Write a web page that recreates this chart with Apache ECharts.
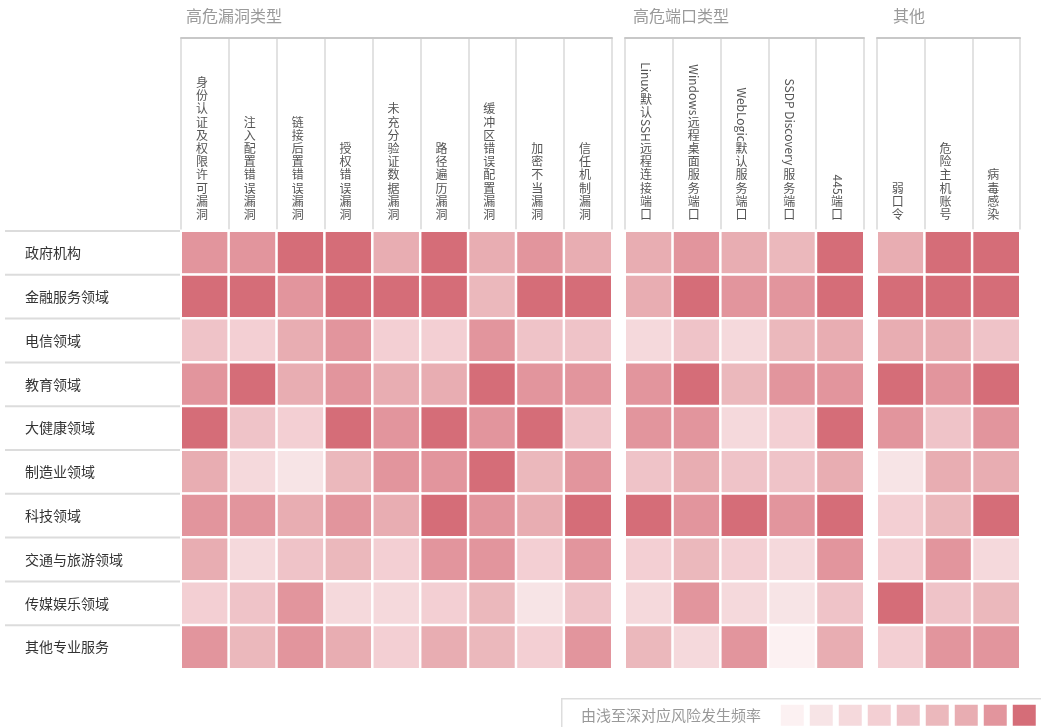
<!DOCTYPE html>
<html><head><meta charset="utf-8">
<script src="https://cdn.jsdelivr.net/npm/echarts@6/dist/echarts.min.js"></script>
<style>html,body{margin:0;padding:0;background:#fff}#c{width:1041px;height:727px}</style>
</head><body><div id="c"></div>
<script>
const rows = ['政府机构','金融服务领域','电信领域','教育领域','大健康领域','制造业领域','科技领域','交通与旅游领域','传媒娱乐领域','其他专业服务'];
const vulnCols = ['身份认证及权限许可漏洞','注入配置错误漏洞','链接后置错误漏洞','授权错误漏洞','未充分验证数据漏洞','路径遍历漏洞','缓冲区错误配置漏洞','加密不当漏洞','信任机制漏洞'];
const portCols = ['Linux默认SSH远程连接端口','Windows远程桌面服务端口','WebLogic默认服务端口','SSDP Discovery 服务端口','445端口'];
const otherCols = ['弱口令','危险主机账号','病毒感染'];
const groupTitles = ['高危漏洞类型','高危端口类型','其他'];
const legendText = '由浅至深对应风险发生频率';
const levelColors = ['#fcf1f2','#f7e4e6','#f5d9dc','#f3cfd3','#efc3c8','#ebb8bc','#e8adb2','#e2959d','#d56d78'];
// risk level 1..9 per row (rows order)
const vulnValues = [
 [8,8,9,9,7,9,7,8,7],
 [9,9,8,9,9,9,6,9,9],
 [5,4,7,8,4,4,8,5,5],
 [8,9,7,8,7,7,9,8,8],
 [9,5,4,9,8,9,8,9,5],
 [7,3,2,6,8,8,9,6,8],
 [8,8,7,8,7,9,8,7,9],
 [7,3,5,6,4,8,8,4,8],
 [4,5,8,3,3,4,6,2,5],
 [8,6,8,7,4,7,6,4,8]
];
const portValues = [
 [7,8,7,6,9],
 [7,9,8,8,9],
 [3,5,3,6,7],
 [8,9,6,8,8],
 [8,8,3,4,9],
 [5,7,5,5,7],
 [9,8,9,8,9],
 [4,6,4,3,8],
 [3,8,3,2,5],
 [6,3,8,1,7]
];
const otherValues = [
 [7,9,9],
 [9,9,9],
 [7,7,5],
 [9,8,9],
 [8,5,8],
 [2,7,7],
 [4,6,9],
 [4,8,3],
 [9,5,6],
 [4,8,8]
];

const FONT = '"Noto Sans CJK SC","Noto Sans",sans-serif';
const chart = echarts.init(document.getElementById('c'));
const groups = [
  {cols: vulnCols, vals: vulnValues, left: 181, width: 431, titleLeft: 186},
  {cols: portCols, vals: portValues, left: 625, width: 239, titleLeft: 633},
  {cols: otherCols, vals: otherValues, left: 877, width: 143, titleLeft: 893}
];
const grids = [], xAxes = [], yAxes = [], series = [];
groups.forEach((g, i) => {
  grids.push({left: g.left, width: g.width, top: 231, height: 438});
  xAxes.push({type: 'category', gridIndex: i, data: g.cols, show: false});
  yAxes.push({type: 'category', gridIndex: i, data: rows, inverse: true, show: false});
  const data = [];
  g.vals.forEach((r, ri) => r.forEach((v, ci) => data.push([ci, ri, v])));
  series.push({type: 'heatmap', xAxisIndex: i, yAxisIndex: i, data: data,
    itemStyle: {borderColor: '#fff', borderWidth: 2.5}, emphasis: {disabled: true}});
});
groups.forEach((g, i) => {
  grids.push({left: g.left, width: g.width, top: 38, height: 193});
  xAxes.push({type: 'category', gridIndex: 3 + i, data: g.cols, position: 'top',
    axisLine: {show: true, onZero: false, lineStyle: {color: '#c8c8c8', width: 2}},
    axisTick: {show: false}, axisLabel: {show: false},
    splitLine: {show: true, interval: 0, lineStyle: {color: '#e2e2e2', width: 2}}});
  yAxes.push({type: 'value', gridIndex: 3 + i, show: false, min: 0, max: 1});
});
grids.push({left: 5, width: 175, top: 231, height: 438});
xAxes.push({type: 'value', gridIndex: 6, show: false, min: 0, max: 1});
yAxes.push({type: 'category', gridIndex: 6, data: rows, inverse: true,
  axisLine: {show: false}, axisTick: {show: false}, splitLine: {show: false},
  axisLabel: {inside: true, margin: 20, color: '#333', fontSize: 14, fontFamily: FONT}});
series.push({type: 'custom', xAxisIndex: 6, yAxisIndex: 6, silent: true,
  data: rows.map((r, i) => [0, i]),
  renderItem: (params, api) => {
    const cs = params.coordSys;
    const p = api.coord([0, api.value(1)]);
    const h = api.size([0, 1])[1];
    const y = p[1] - h / 2;
    return {type: 'line', shape: {x1: cs.x, y1: y, x2: cs.x + cs.width, y2: y},
      style: {stroke: '#dcdcdc', lineWidth: 2}};
  }});

const titles = groups.map((g, i) => ({text: groupTitles[i], left: g.titleLeft, top: 7, padding: 0,
  textStyle: {color: '#9a9a9a', fontSize: 16, fontWeight: 'normal', fontFamily: FONT, lineHeight: 18}}));
titles.push({text: legendText, left: 581, top: 706, padding: 0, z: 10,
  textStyle: {color: '#999', fontSize: 15, fontWeight: 'normal', fontFamily: FONT, lineHeight: 18}});

const option = {
  animation: false,
  backgroundColor: '#fff',
  title: titles,
  grid: grids, xAxis: xAxes, yAxis: yAxes, series: series,
  visualMap: {type: 'piecewise', seriesIndex: [0, 1, 2], orient: 'horizontal',
    pieces: levelColors.map((c, i) => ({value: i + 1, color: c})),
    left: 561, top: 698, itemWidth: 23, itemHeight: 21, itemGap: 6, itemSymbol: 'rect',
    showLabel: false, selectedMode: false,
    padding: [6, 20, 6, 219], borderColor: '#dddddd', borderWidth: 1.5}
};
chart.setOption(option);

// vertical header labels (CJK upright, Latin runs rotated)
const HF = 12, STEP = 13.2;
const ctx = document.createElement('canvas').getContext('2d');
ctx.font = HF + 'px ' + FONT;
const els = [];
groups.forEach((g, i) => {
  g.cols.forEach(name => {
    const cx = chart.convertToPixel({xAxisIndex: 3 + i}, name) - 3;
    const segs = name.match(/[\u0000-\u00ff]+|[^\u0000-\u00ff]/g);
    let y = 221;
    for (let k = segs.length - 1; k >= 0; k--) {
      const s = segs[k];
      if (/^[\u0000-\u00ff]+$/.test(s)) {
        const w = ctx.measureText(s).width;
        els.push({type: 'text', x: cx, y: y - w / 2, rotation: -Math.PI / 2, silent: true,
          style: {text: s, fontSize: HF, fontFamily: FONT, fill: '#555', align: 'center', verticalAlign: 'middle'}});
        y -= w;
      } else {
        els.push({type: 'text', x: cx, y: y - STEP / 2, silent: true,
          style: {text: s, fontSize: HF, fontFamily: FONT, fill: '#555', align: 'center', verticalAlign: 'middle'}});
        y -= STEP;
      }
    }
  });
});
chart.setOption({graphic: {elements: els}});
</script></body></html>
